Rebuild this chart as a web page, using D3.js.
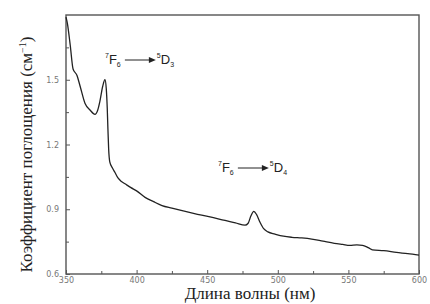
<!DOCTYPE html>
<html>
<head>
<meta charset="utf-8">
<script src="https://cdn.jsdelivr.net/npm/d3@7"></script>
<style>
  body { margin: 0; background: #fff; }
  svg { display: block; }
  .tick text { font-family: "DejaVu Sans", sans-serif; font-size: 8px; fill: #777; }
  .title { font-family: "Liberation Serif", "DejaVu Serif", serif; font-size: 17px; fill: #222; }
  .note { font-family: "Liberation Sans", Arial, sans-serif; fill: #222; }
</style>
</head>
<body>
<svg id="chart" width="430" height="304"></svg>
<script>
// wavelength (nm) and absorption coefficient
const wavelength = [350, 351, 353, 355, 357.8, 360, 363.5, 367, 370.5, 372.5, 374, 376, 377.6, 378.5, 379.2, 379.7, 380.2, 381, 383, 384.7, 386.8, 389, 391.8, 396, 400, 406, 412, 418, 425, 433, 441, 452, 462.6, 470, 476.8, 479, 481, 483, 485, 487.4, 490, 493, 498, 504, 510, 517, 524, 532, 540, 546, 551, 556, 560, 564, 567, 575, 584, 592, 600];
const absorb = [1.79, 1.76, 1.66, 1.55, 1.52, 1.47, 1.39, 1.36, 1.34, 1.36, 1.40, 1.47, 1.50, 1.46, 1.37, 1.27, 1.18, 1.12, 1.09, 1.07, 1.045, 1.03, 1.018, 1.0, 0.985, 0.955, 0.935, 0.917, 0.905, 0.892, 0.88, 0.865, 0.848, 0.837, 0.826, 0.835, 0.87, 0.89, 0.875, 0.84, 0.81, 0.795, 0.785, 0.775, 0.77, 0.767, 0.762, 0.752, 0.742, 0.737, 0.733, 0.735, 0.733, 0.722, 0.712, 0.708, 0.70, 0.694, 0.687];
const xTicks = [350, 400, 450, 500, 550, 600];
const xMinor = [375, 425, 475, 525, 575];
const yTicks = [0.6, 0.9, 1.2, 1.5];
const yMinor = [0.75, 1.05, 1.35, 1.65];

const margin = { top: 15, right: 11, bottom: 30, left: 66 };
const svg = d3.select('#chart');
const width = 430 - margin.left - margin.right;
const height = 304 - margin.top - margin.bottom;

const x = d3.scaleLinear().domain([350, 600]).range([0, width]);
const y = d3.scaleLinear().domain([0.6, 1.8]).range([height, 0]);

const g = svg.append('g').attr('transform', `translate(${margin.left},${margin.top})`);

// frame
g.append('rect')
  .attr('width', width).attr('height', height)
  .attr('fill', 'none').attr('stroke', '#555').attr('stroke-width', 1.4);

// axes with inward ticks
g.append('g').attr('transform', `translate(0,${height})`)
  .call(d3.axisBottom(x).tickValues(xTicks).tickSizeInner(-4).tickSizeOuter(0).tickPadding(3));
g.append('g').attr('transform', `translate(0,${height})`)
  .call(d3.axisBottom(x).tickValues(xMinor).tickSizeInner(-3).tickSizeOuter(0).tickFormat(''));
g.append('g')
  .call(d3.axisLeft(y).tickValues(yTicks).tickSizeInner(-4).tickSizeOuter(0).tickPadding(7).tickFormat(d3.format('.1f')));
g.append('g')
  .call(d3.axisLeft(y).tickValues(yMinor).tickSizeInner(-3).tickSizeOuter(0).tickFormat(''));
g.selectAll('.domain').remove();
g.selectAll('.tick line').attr('stroke', '#555');

// spectrum
const pts = wavelength.map((w, i) => [w, absorb[i]]);
const line = d3.line().x(d => x(d[0])).y(d => y(d[1])).curve(d3.curveMonotoneX);
g.append('path')
  .attr('d', line(pts))
  .attr('fill', 'none').attr('stroke', '#222').attr('stroke-width', 1.3);

// transition labels
function transition(px, py, low, high) {
  const t = svg.append('text').attr('class', 'note').attr('x', px).attr('y', py);
  t.append('tspan').attr('font-size', 7).attr('dy', -6).text('7');
  t.append('tspan').attr('font-size', 13).attr('dy', 6).text('F');
  t.append('tspan').attr('font-size', 7).attr('dy', 3).text('6');
  const bb = t.node().getBBox();
  const ax = bb.x + bb.width + 4;
  svg.append('line').attr('x1', ax).attr('x2', ax + 25).attr('y1', py - 4).attr('y2', py - 4)
    .attr('stroke', '#222').attr('stroke-width', 1);
  svg.append('path').attr('d', `M${ax + 31},${py - 4}l-7,-3v6z`).attr('fill', '#222');
  const t2 = svg.append('text').attr('class', 'note').attr('x', ax + 32).attr('y', py);
  t2.append('tspan').attr('font-size', 7).attr('dy', -6).text(high);
  t2.append('tspan').attr('font-size', 13).attr('dy', 6).text('D');
  t2.append('tspan').attr('font-size', 7).attr('dy', 3).text(low);
}
transition(105, 64, '3', '5');
transition(218, 172, '4', '5');

// axis titles
svg.append('text').attr('class', 'title')
  .attr('x', 250).attr('y', 299)
  .attr('font-size', 15)
  .attr('text-anchor', 'middle').text('Длина волны (нм)');
const yt = svg.append('text').attr('class', 'title')
  .attr('transform', `translate(32,${margin.top + height / 2 + 10}) rotate(-90)`)
  .attr('text-anchor', 'middle');
yt.append('tspan').text('Коэффициент поглощения (см');
yt.append('tspan').attr('font-size', 10).attr('dy', -6).text('−1');
yt.append('tspan').attr('dy', 6).text(')');
</script>
</body>
</html>
